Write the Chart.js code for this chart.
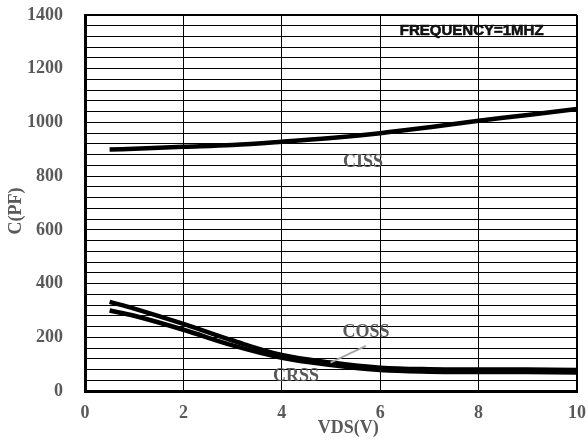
<!DOCTYPE html>
<html>
<head>
<meta charset="utf-8">
<script src="https://cdn.jsdelivr.net/npm/chart.js@4/dist/chart.umd.min.js"></script>
<style>
  html, body { margin: 0; padding: 0; background: #fff; }
  #wrap { width: 588px; height: 441px; }
</style>
</head>
<body>
<div id="wrap"><canvas id="c" width="588" height="441"></canvas></div>
<script>
// values
const vds      = [0.5, 1, 2, 3, 4, 5, 6, 7, 8, 9, 10];
const ciss     = [899, 902, 909, 916, 928, 942, 960, 982, 1006, 1028, 1050];
const coss     = [332, 307, 250, 188, 134, 106, 87, 81, 80, 80, 78];
const crss     = [300, 280, 228, 170, 124, 97, 78, 72, 71, 71, 69];
const xTicks   = [0, 2, 4, 6, 8, 10];
const yLabels  = [0, 200, 400, 600, 800, 1000, 1200, 1400];

const GRAY  = '#595959';
const SERIF = 'bold 18px "Liberation Serif", "Times New Roman", serif';

const pts = ys => vds.map((x, i) => ({ x, y: ys[i] }));

// text labels and axis titles
const notes = {
  id: 'notes',
  afterDatasetsDraw(chart) {
    const { ctx } = chart;
    const xs = chart.scales.x, ys = chart.scales.y;
    ctx.save();
    ctx.fillStyle = GRAY;
    ctx.font = SERIF;
    ctx.textAlign = 'center';
    ctx.textBaseline = 'middle';
    ctx.fillText('CISS', xs.getPixelForValue(5.65), ys.getPixelForValue(850));
    ctx.fillText('COSS', xs.getPixelForValue(5.71), ys.getPixelForValue(220));
    ctx.fillText('CRSS', xs.getPixelForValue(4.29), ys.getPixelForValue(55));

    // leader line from COSS label
    ctx.strokeStyle = '#a6a6a6';
    ctx.lineWidth = 2;
    ctx.beginPath();
    ctx.moveTo(xs.getPixelForValue(5.71), ys.getPixelForValue(168));
    ctx.lineTo(xs.getPixelForValue(4.99), ys.getPixelForValue(106));
    ctx.stroke();

    ctx.fillText('VDS(V)', xs.getPixelForValue(5.35), 428);
    ctx.translate(16, 211);
    ctx.rotate(-Math.PI / 2);
    ctx.fillText('C(PF)', 0, 0);
    ctx.restore();

    ctx.save();
    ctx.fillStyle = '#111';
    ctx.strokeStyle = '#111';
    ctx.lineWidth = 0.6;
    ctx.font = 'bold 15px "Liberation Sans", Arial, sans-serif';
    ctx.textAlign = 'center';
    ctx.textBaseline = 'middle';
    const fx = xs.getPixelForValue(7.86);
    ctx.fillText('FREQUENCY=1MHZ', fx, 31);
    ctx.strokeText('FREQUENCY=1MHZ', fx, 31);
    ctx.restore();
  }
};

const line = (label, ys) => ({
  label,
  data: pts(ys),
  borderColor: '#000',
  borderWidth: 4.5,
  pointRadius: 0,
  showLine: true,
  fill: false,
  tension: 0.35,
});

const noPad = s => { s.paddingTop = 0; s.paddingBottom = 0; s.paddingLeft = 0; s.paddingRight = 0; };

new Chart(document.getElementById('c'), {
  type: 'scatter',
  data: {
    datasets: [line('CISS', ciss), line('COSS', coss), line('CRSS', crss)],
  },
  options: {
    responsive: false,
    animation: false,
    layout: { padding: { top: 15, right: 11, left: 0, bottom: 0 } },
    plugins: { legend: { display: false }, tooltip: { enabled: false } },
    scales: {
      x: {
        type: 'linear', min: 0, max: 10,
        afterBuildTicks: s => { s.ticks = xTicks.map(v => ({ value: v })); },
        afterFit: s => { s.height = 50; noPad(s); },
        grid: {
          color: '#000',
          lineWidth: c => (c.tick && c.tick.value === 10 ? 2 : 1),
          drawTicks: false,
        },
        border: { color: '#000', width: 3 },
        ticks: { color: GRAY, font: { family: '"Liberation Serif", serif', size: 18, weight: 'bold' }, padding: 12, maxRotation: 0 },
      },
      y: {
        min: 0, max: 1400,
        ticks: {
          stepSize: 40, autoSkip: false,
          color: GRAY, padding: 22,
          font: { family: '"Liberation Serif", serif', size: 18, weight: 'bold' },
          callback: v => (yLabels.includes(v) ? v : ''),
        },
        afterFit: s => { s.width = 85; noPad(s); },
        grid: {
          color: '#000',
          lineWidth: c => (c.tick && c.tick.value === 1400 ? 2 : 1),
          drawTicks: false,
        },
        border: { color: '#000', width: 3 },
      },
    },
  },
  plugins: [notes],
});
</script>
</body>
</html>
